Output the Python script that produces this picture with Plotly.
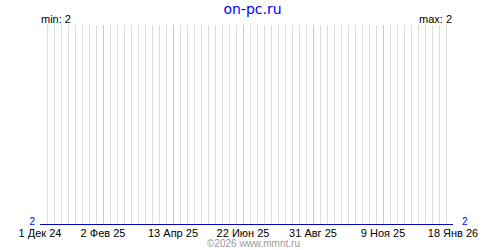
import plotly.graph_objects as go

dates = ["2024-12-01", "2026-01-18"]
values = [2, 2]
tick_vals = ["2024-12-01", "2025-02-02", "2025-04-13", "2025-06-22", "2025-08-31", "2025-11-09", "2026-01-18"]
tick_text = ["1 Дек 24", "2 Фев 25", "13 Апр 25", "22 Июн 25", "31 Авг 25", "9 Ноя 25", "18 Янв 26"]
title_text = "on-pc.ru"
min_text = "min: 2"
max_text = "max: 2"
footer_text = "©2026 www.mmnt.ru"

font = "Liberation Sans, Arial, sans-serif"
x_range = ["2024-12-01", "2026-01-18"]
y_range = [1.998, 3.0]

fig = go.Figure()
fig.add_trace(go.Scatter(x=dates, y=values, mode="lines", xaxis="x", yaxis="y",
                         line=dict(color="#0000cc", width=1), showlegend=False))
fig.add_trace(go.Scatter(x=dates, y=values, mode="lines", xaxis="x", yaxis="y2",
                         line=dict(color="#0000cc", width=1), showlegend=False))

fig.update_layout(
    width=500, height=250,
    margin=dict(l=40, r=47, t=25, b=25),
    paper_bgcolor="white", plot_bgcolor="white",
    showlegend=False,
    title=dict(text=title_text, x=0.505, xanchor="center", y=0.962, yanchor="middle",
               font=dict(family="DejaVu Sans, Verdana, sans-serif", size=14, color="#0000ff")),
    xaxis=dict(
        type="date", range=x_range,
        tickmode="array", tickvals=tick_vals, ticktext=tick_text,
        showgrid=True, gridcolor="#ffb4b4", gridwidth=1,
        ticks="", tickfont=dict(family=font, size=11, color="black"),
        ticklabelstandoff=0, showline=False, zeroline=False,
        minor=dict(tick0="2024-12-01", dtick=7 * 86400000, showgrid=True,
                   gridcolor="#dcdcdc", gridwidth=1, ticks=""),
    ),
    yaxis=dict(
        range=y_range, tickmode="array", tickvals=[2, 3], ticktext=["2", ""],
        showgrid=True, gridcolor="#dcdcdc", zeroline=False, showline=False,
        tickfont=dict(family=font, size=10, color="#0000ff"), ticks="",
        ticklabelshift=-3, ticklabelstandoff=4,
    ),
    yaxis2=dict(
        range=y_range, overlaying="y", side="right",
        tickmode="array", tickvals=[2], ticktext=["2"],
        showgrid=False, zeroline=False, showline=False,
        tickfont=dict(family=font, size=10, color="#0000ff"), ticks="",
        ticklabelshift=-3, ticklabelstandoff=8,
    ),
    annotations=[
        dict(text=min_text, xref="paper", yref="paper", x=0, y=1, xanchor="left", yanchor="bottom",
             showarrow=False, font=dict(family=font, size=11, color="black"), xshift=-1, yshift=-2),
        dict(text=max_text, xref="paper", yref="paper", x=1, y=1, xanchor="right", yanchor="bottom",
             showarrow=False, font=dict(family=font, size=11, color="black"), xshift=1, yshift=-2),
        dict(text=footer_text, xref="paper", yref="paper", x=0.518, y=-0.125, xanchor="center",
             yanchor="bottom", showarrow=False, borderpad=0,
             font=dict(family=font, size=10, color="#999999")),
    ],
)

fig.write_html("out.html")
